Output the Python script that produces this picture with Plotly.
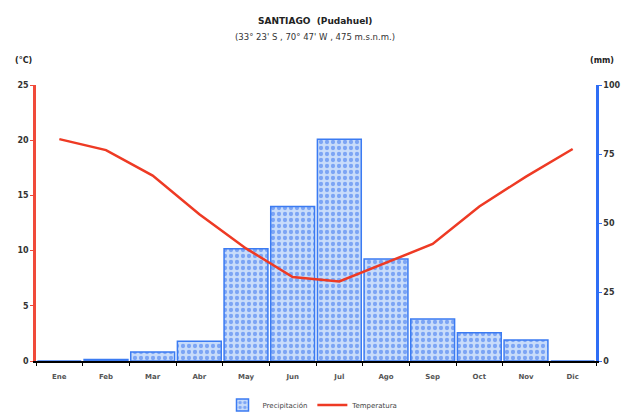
import plotly.graph_objects as go

months = ["Ene", "Feb", "Mar", "Abr", "May", "Jun", "Jul", "Ago", "Sep", "Oct", "Nov", "Dic"]
precip_mm = [0.0, 0.5, 3.3, 7.2, 40.7, 56.0, 80.3, 37.0, 15.2, 10.2, 7.6, 0.0]
temp_c = [20.1, 19.1, 16.8, 13.3, 10.2, 7.6, 7.2, 8.9, 10.6, 14.0, 16.7, 19.2]
temp_ticks = [0, 5, 10, 15, 20, 25]
mm_ticks = [0, 25, 50, 75, 100]

OFF = 8  # page body margin
W, H = 629 - OFF, 413 - OFF
L, T = 36 - OFF, 85 - OFF
R = W - (596 - OFF)
B = H - (361 - OFF)
plot_h = H - T - B
plot_w = W - L - R
def py(pix):  # screen pixel -> paper y
    return (H - B - (pix - OFF)) / plot_h
def px(pix):  # screen pixel -> paper x
    return ((pix - OFF) - L) / plot_w

fig = go.Figure()
fig.add_trace(go.Bar(
    x=months, y=precip_mm, name="Precipitación", yaxis="y",
    marker=dict(color="#bcd3f7",
                line=dict(color="#3b7bf2", width=1.5),
                pattern=dict(shape=".", fgcolor="#2f6ef0", bgcolor="#c8dcfa",
                             size=6, solidity=0.4)),
))
fig.add_trace(go.Scatter(
    x=months, y=temp_c, name="Temperatura", yaxis="y2", mode="lines",
    line=dict(color="#ee3a24", width=2.5),
))

fig.update_layout(
    width=W, height=H,
    margin=dict(l=L, r=R, t=T, b=B, autoexpand=False),
    paper_bgcolor="white", plot_bgcolor="white",
    bargap=0.06,
    showlegend=True,
    legend=dict(orientation="h", x=px(313), xanchor="center", y=py(405), yanchor="middle",
                font=dict(family="DejaVu Sans", size=7, color="#444444"),
                itemwidth=30, tracegroupgap=0),
    xaxis=dict(showline=True, linecolor="black", linewidth=1.5,
               ticks="outside", tickson="boundaries", ticklen=3, tickcolor="black",
               ticklabelstandoff=8,
               tickfont=dict(family="DejaVu Sans", size=7, color="#555555", weight="bold"),
               showgrid=False, zeroline=False),
    yaxis=dict(side="right", range=[0, 100], tickvals=mm_ticks,
               showline=True, linecolor="#2f6ef5", linewidth=2.5,
               ticks="outside", ticklen=3, tickcolor="#2f6ef5",
               tickfont=dict(family="DejaVu Sans", size=8, color="#333333", weight="bold"),
               showgrid=False, zeroline=False),
    yaxis2=dict(side="left", overlaying="y", range=[0, 25], tickvals=temp_ticks,
                showline=True, linecolor="#f04a3a", linewidth=2.5,
                ticks="outside", ticklen=3, tickcolor="#f04a3a",
                tickfont=dict(family="DejaVu Sans", size=8, color="#333333", weight="bold"),
                showgrid=False, zeroline=False),
    annotations=[
        dict(text="<b>SANTIAGO  (Pudahuel)</b>", x=px(315), y=py(21), xref="paper", yref="paper",
             xanchor="center", yanchor="middle",
             showarrow=False, font=dict(family="DejaVu Sans", size=9, color="#222222")),
        dict(text="(33° 23' S , 70° 47' W , 475 m.s.n.m.)", xref="paper", yref="paper",
             x=px(315), y=py(37), xanchor="center", yanchor="middle", showarrow=False,
             font=dict(family="DejaVu Sans", size=8.5, color="#333333")),
        dict(text="<b>(°C)</b>", xref="paper", yref="paper", x=px(23), y=py(60),
             xanchor="center", yanchor="middle", showarrow=False,
             font=dict(family="DejaVu Sans", size=8, color="#222222")),
        dict(text="<b>(mm)</b>", xref="paper", yref="paper", x=px(602), y=py(60),
             xanchor="center", yanchor="middle", showarrow=False,
             font=dict(family="DejaVu Sans", size=8, color="#222222")),
    ],
)

fig.write_html("out.html")
